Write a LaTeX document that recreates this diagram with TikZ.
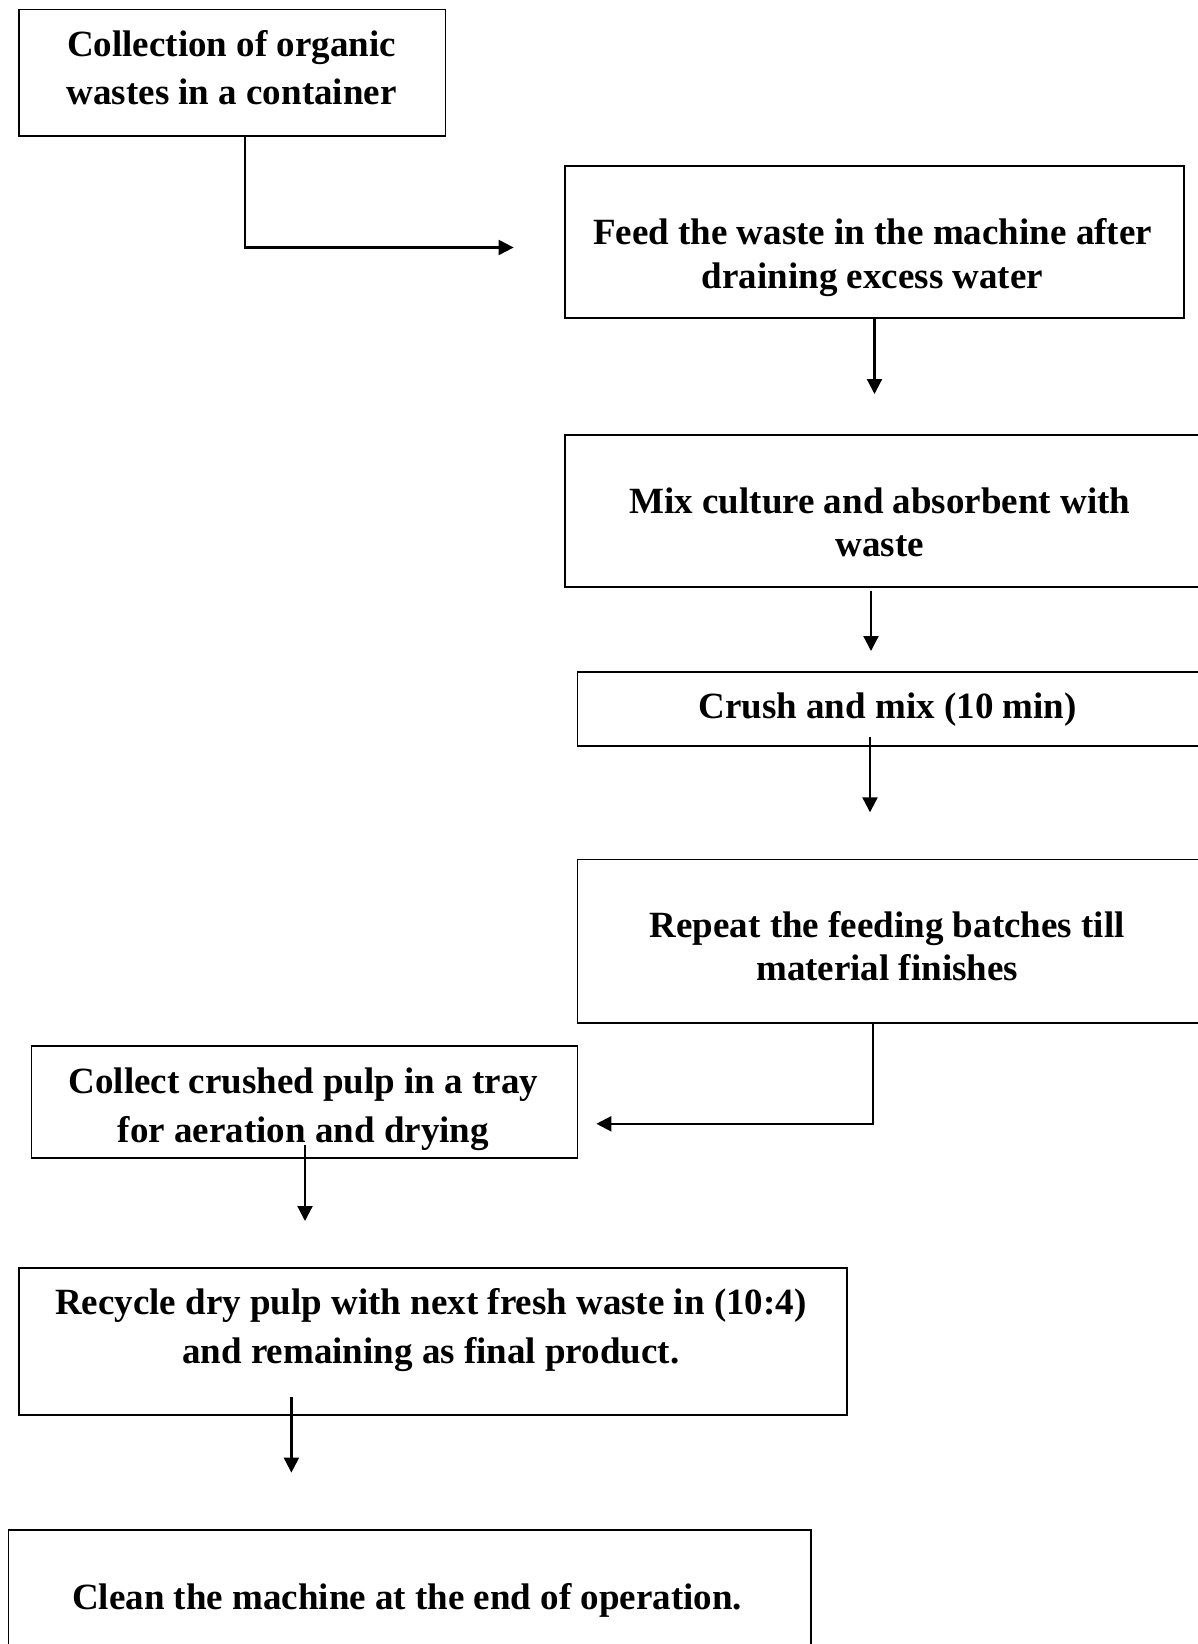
\documentclass[tikz,border=0pt]{standalone}
\usepackage{fontspec}
\setmainfont{Liberation Serif}
\usetikzlibrary{arrows.meta}
\tikzset{
  box/.style={draw=black, line width=1.8pt, rectangle, inner sep=0pt},
  txt/.style={align=center, inner sep=0pt, font=\fontsize{37}{44}\selectfont\bfseries},
  conn/.style={line width=2.2pt, -{Triangle[length=15pt,width=15pt]}}
}
\begin{document}
\begin{tikzpicture}[x=1pt,y=-1pt]
\useasboundingbox (0,0) rectangle (1198,1644);
\clip (0,0) rectangle (1198,1644);
% boxes
\node[box, minimum width=426.5pt, minimum height=126.9pt] (b1) at (232.2,72.9) {};
\node[box, minimum width=619pt, minimum height=152pt] (b2) at (874.5,241.6) {};
\node[box, minimum width=636pt, minimum height=152pt] (b3) at (883,511) {};
\node[box, minimum width=623.5pt, minimum height=74.5pt] (b4) at (889.3,709) {};
\node[box, minimum width=623.5pt, minimum height=163.6pt] (b5) at (889.3,941.2) {};
\node[box, minimum width=546.1pt, minimum height=112pt] (b6) at (304.5,1102) {};
\node[box, minimum width=828pt, minimum height=147pt] (b7) at (432.9,1341.5) {};
\node[box, minimum width=802.6pt, minimum height=135pt] (b8) at (409.7,1597.5) {};
% texts
\node[txt, font=\fontsize{37}{48}\selectfont\bfseries] (t1) at (231.6,68.1) {Collection of organic\\wastes in a container};
\node[txt] (t2) at (872.5,257.7) {Feed the waste in the machine after\\draining excess water};
\node[txt, font=\fontsize{37}{43}\selectfont\bfseries] (t3) at (879.9,522.5) {Mix culture and absorbent with\\waste};
\node[txt] (t4) at (887.7,709.4) {Crush and mix (10 min)};
\node[txt, font=\fontsize{37}{43}\selectfont\bfseries] (t5) at (887.2,945.9) {Repeat the feeding batches till\\material finishes};
\node[txt, font=\fontsize{37}{49}\selectfont\bfseries] (t6) at (303.4,1109.2) {Collect crushed pulp in a tray\\for aeration and drying};
\node[txt, font=\fontsize{37}{49}\selectfont\bfseries] (t7) at (430.8,1330.3) {Recycle dry pulp with next fresh waste in (10:4)\\and remaining as final product.};
\node[txt] (t8) at (407.2,1600.3) {Clean the machine at the end of operation.};
% free arrow ends
\coordinate (e12) at (513.6,247.5);
\coordinate (e23) at (874.5,394);
\coordinate (e34) at (871,651);
\coordinate (e45) at (870,812.3);
\coordinate (e56) at (596.4,1123.8);
\coordinate (e67) at (305,1221);
\coordinate (e78) at (291.4,1472.6);
% connectors
\draw[conn] ([xshift=13.1pt]b1.south) |- (e12);
\draw[conn] (b2.south) -- (e23);
\draw[conn] ([xshift=-12pt,yshift=-3pt]b3.south) -- (e34);
\draw[conn] ([xshift=-19.3pt,yshift=10.5pt]b4.south) -- (e45);
\draw[conn] ([xshift=-16.3pt]b5.south) |- (e56);
\draw[conn] ([xshift=0.5pt,yshift=13.5pt]b6.south) -- (e67);
\draw[conn] ([xshift=-141.5pt,yshift=19pt]b7.south) -- (e78);
\end{tikzpicture}
\end{document}
